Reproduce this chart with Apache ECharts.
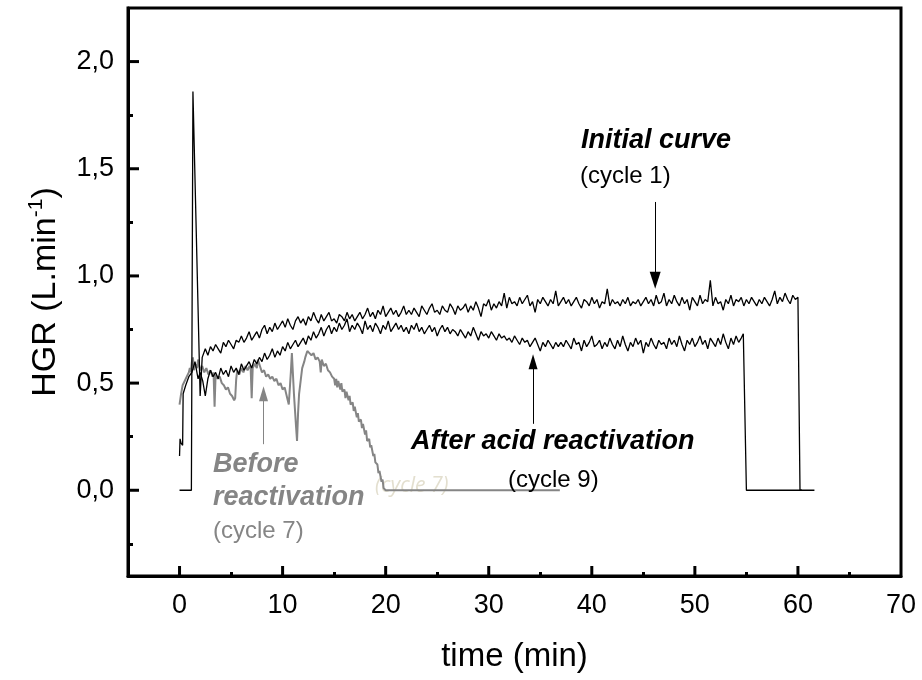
<!DOCTYPE html>
<html>
<head>
<meta charset="utf-8">
<script src="https://cdn.jsdelivr.net/npm/echarts@6/dist/echarts.min.js"></script>
<style>
html, body { margin: 0; padding: 0; background: #fff; }
#chart { width: 922px; height: 680px; }
</style>
</head>
<body>
<div id="chart"></div>
<script>
const step = 0.25

// cycle 1 - initial curve
const cycle1Head = [[0, 0], [1.15, 0], [1.3, 1.86], [2.0, 0.44], [2.2, 0.62]]
const cycle1Start = 2.5
const cycle1Values = [
    0.66, 0.63, 0.67, 0.65, 0.68, 0.66, 0.64, 0.69, 0.67, 0.70, 0.68, 0.66, 0.70, 0.69, 0.72, 0.69, 0.71, 0.74, 0.70, 0.72,
    0.74, 0.71, 0.75, 0.77, 0.73, 0.76, 0.74, 0.78, 0.75, 0.77, 0.79, 0.76, 0.80, 0.77, 0.75, 0.79, 0.81, 0.78, 0.80, 0.77,
    0.81, 0.79, 0.83, 0.80, 0.78, 0.82, 0.79, 0.81, 0.83, 0.79, 0.80, 0.78, 0.82, 0.81, 0.79, 0.83, 0.80, 0.82, 0.79, 0.81,
    0.83, 0.80, 0.82, 0.85, 0.81, 0.83, 0.80, 0.84, 0.82, 0.86, 0.81, 0.83, 0.85, 0.82, 0.84, 0.81, 0.83, 0.86, 0.82, 0.84,
    0.82, 0.85, 0.83, 0.81, 0.86, 0.84, 0.82, 0.85, 0.87, 0.83, 0.84, 0.82, 0.86, 0.84, 0.83, 0.87, 0.85, 0.82, 0.86, 0.84,
    0.85, 0.87, 0.83, 0.86, 0.84, 0.88, 0.85, 0.81, 0.87, 0.86, 0.89, 0.84, 0.87, 0.85, 0.88, 0.86, 0.92, 0.85, 0.90, 0.87,
    0.88, 0.86, 0.90, 0.87, 0.89, 0.91, 0.86, 0.88, 0.83, 0.89, 0.87, 0.90, 0.88, 0.86, 0.89, 0.87, 0.93, 0.86, 0.88, 0.90,
    0.87, 0.89, 0.86, 0.88, 0.90, 0.87, 0.85, 0.89, 0.88, 0.86, 0.90, 0.87, 0.89, 0.85, 0.88, 0.87, 0.94, 0.86, 0.89, 0.87,
    0.88, 0.86, 0.89, 0.87, 0.90, 0.86, 0.88, 0.87, 0.89, 0.86, 0.88, 0.90, 0.87, 0.89, 0.86, 0.91, 0.87, 0.88, 0.92, 0.86,
    0.89, 0.87, 0.91, 0.88, 0.86, 0.90, 0.87, 0.89, 0.84, 0.90, 0.88, 0.86, 0.91, 0.87, 0.89, 0.88, 0.98, 0.86, 0.90, 0.87,
    0.88, 0.84, 0.89, 0.87, 0.91, 0.86, 0.89, 0.88, 0.90, 0.86, 0.89, 0.87, 0.90, 0.88, 0.86, 0.89, 0.87, 0.90, 0.88, 0.86,
    0.89, 0.93, 0.87, 0.90, 0.88, 0.92, 0.89, 0.87, 0.91, 0.89, 0.90
]
const cycle1Tail = [[60.2, 0], [61.6, 0]]

// cycle 9 - after acid reactivation
const cycle9Head = [[0, 0.16], [0.05, 0.24], [0.15, 0.22], [0.3, 0.21], [0.35, 0.45],
    [0.6, 0.49], [0.9, 0.53], [1.2, 0.55], [1.5, 0.60], [1.8, 0.52]]
const cycle9Start = 2.0
const cycle9Values = [
    0.55, 0.51, 0.44, 0.52, 0.56, 0.53, 0.55, 0.52, 0.57, 0.54, 0.56, 0.53, 0.58, 0.55, 0.57, 0.54, 0.59, 0.56, 0.58, 0.60,
    0.57, 0.61, 0.59, 0.62, 0.60, 0.64, 0.61, 0.63, 0.66, 0.62, 0.65, 0.63, 0.67, 0.65, 0.69, 0.66, 0.68, 0.70, 0.67, 0.69,
    0.71, 0.68, 0.72, 0.70, 0.74, 0.71, 0.73, 0.76, 0.72, 0.75, 0.77, 0.73, 0.76, 0.74, 0.78, 0.75, 0.77, 0.80, 0.74, 0.77,
    0.75, 0.78, 0.76, 0.73, 0.79, 0.75, 0.77, 0.74, 0.78, 0.76, 0.73, 0.77, 0.75, 0.79, 0.74, 0.76, 0.78, 0.75, 0.77, 0.74,
    0.76, 0.73, 0.77, 0.75, 0.78, 0.74, 0.76, 0.73, 0.75, 0.77, 0.74, 0.76, 0.72, 0.75, 0.77, 0.74, 0.76, 0.73, 0.75, 0.74,
    0.72, 0.75, 0.73, 0.71, 0.74, 0.72, 0.76, 0.73, 0.70, 0.74, 0.72, 0.73, 0.71, 0.74, 0.72, 0.70, 0.73, 0.71, 0.72, 0.70,
    0.71, 0.69, 0.72, 0.70, 0.68, 0.71, 0.69, 0.70, 0.67, 0.69, 0.71, 0.68, 0.65, 0.69, 0.67, 0.70, 0.68, 0.66, 0.69, 0.67,
    0.69, 0.67, 0.70, 0.68, 0.66, 0.71, 0.68, 0.69, 0.65, 0.70, 0.67, 0.69, 0.72, 0.67, 0.68, 0.70, 0.66, 0.69, 0.67, 0.71,
    0.68, 0.66, 0.70, 0.67, 0.72, 0.68, 0.65, 0.69, 0.67, 0.71, 0.68, 0.70, 0.64, 0.69, 0.67, 0.71, 0.68, 0.66, 0.70, 0.68,
    0.69, 0.66, 0.71, 0.68, 0.70, 0.67, 0.72, 0.68, 0.65, 0.70, 0.68, 0.71, 0.67, 0.69, 0.72, 0.68, 0.70, 0.66, 0.71, 0.69,
    0.67, 0.71, 0.68, 0.73, 0.69, 0.66, 0.71, 0.68, 0.72, 0.69, 0.71
]
const cycle9Tail = [[54.7, 0.73], [55.0, 0], [60.4, 0]]

// cycle 7 - before reactivation
const cycle7Points = [
    [0.0, 0.40], [0.15, 0.45], [0.3, 0.49], [0.5, 0.51], [0.7, 0.53], [0.9, 0.55], [1.0, 0.57], [1.1, 0.55],
    [1.2, 0.60], [1.3, 0.62], [1.4, 0.56], [1.5, 0.59], [1.7, 0.57], [1.8, 0.61], [2.0, 0.56], [2.2, 0.58],
    [2.4, 0.55], [2.6, 0.57], [2.8, 0.54], [3.0, 0.56], [3.2, 0.53], [3.3, 0.55], [3.4, 0.39], [3.5, 0.54],
    [3.7, 0.52], [3.9, 0.53], [4.1, 0.50], [4.3, 0.49], [4.5, 0.47], [4.7, 0.48], [4.9, 0.45], [5.1, 0.44],
    [5.3, 0.42], [5.4, 0.43], [5.5, 0.52], [5.6, 0.56], [5.8, 0.54], [6.0, 0.57], [6.2, 0.55], [6.4, 0.58],
    [6.6, 0.56], [6.8, 0.58], [6.9, 0.57], [7.0, 0.43], [7.1, 0.57], [7.3, 0.59], [7.5, 0.57], [7.6, 0.61],
    [7.8, 0.58], [8.0, 0.55], [8.2, 0.56], [8.4, 0.53], [8.6, 0.54], [8.8, 0.52], [9.0, 0.53], [9.2, 0.51],
    [9.4, 0.52], [9.6, 0.49], [9.8, 0.50], [10.0, 0.47], [10.2, 0.48], [10.4, 0.44], [10.5, 0.42], [10.6, 0.40],
    [10.8, 0.55], [10.9, 0.64], [11.1, 0.45], [11.3, 0.30], [11.4, 0.23], [11.5, 0.36], [11.6, 0.45], [11.8, 0.53],
    [11.9, 0.57], [12.1, 0.60], [12.2, 0.62], [12.4, 0.65], [12.6, 0.64], [12.8, 0.63], [13.0, 0.64], [13.2, 0.61],
    [13.4, 0.62], [13.6, 0.60], [13.7, 0.55], [13.8, 0.61], [14.0, 0.58], [14.2, 0.59], [14.4, 0.56], [14.6, 0.55],
    [14.8, 0.53], [15.0, 0.52], [15.1, 0.49], [15.2, 0.52], [15.3, 0.48], [15.4, 0.51], [15.6, 0.47], [15.7, 0.50],
    [15.8, 0.46], [16.0, 0.47], [16.1, 0.43], [16.2, 0.46], [16.4, 0.42], [16.5, 0.44], [16.6, 0.40], [16.8, 0.41],
    [16.9, 0.37], [17.0, 0.39], [17.2, 0.34], [17.3, 0.36], [17.4, 0.32], [17.6, 0.33], [17.7, 0.29], [17.8, 0.31],
    [18.0, 0.26], [18.1, 0.28], [18.2, 0.23], [18.4, 0.24], [18.5, 0.20], [18.6, 0.21], [18.8, 0.16], [18.9, 0.17],
    [19.0, 0.13], [19.2, 0.12], [19.3, 0.08], [19.4, 0.09], [19.6, 0.04], [19.7, 0.05], [19.8, 0.01], [20.0, 0],
    [36.9, 0]
]

const xLabels = [0, 10, 20, 30, 40, 50, 60]
const xMinor = [5, 15, 25, 35, 45, 55, 65]
const yLabels = [0, 0.5, 1.0, 1.5, 2.0]
const yMinor = [-0.25, 0.25, 0.75, 1.25, 1.75]
const xRange = [-5, 70]
const yRange = [-0.4, 2.25]

const font = 'Liberation Sans, Arial, sans-serif'

function sampled(head, start, values, tail) {
    let out = head.slice()
    values.forEach((v, i) => out.push([start + i * step, v]))
    return out.concat(tail)
}

function arrow(x, y1, y2, color, size) {
    return {
        silent: true,
        symbol: ['none', 'triangle'],
        symbolSize: size,
        label: { show: false },
        lineStyle: { color: color, width: 1, type: 'solid' },
        data: [[{ coord: [x, y1] }, { coord: [x, y2] }]]
    }
}

// extra axis carrying only the short minor ticks
function tickAxis(range, pos, len, values) {
    return {
        type: 'value',
        min: range[0],
        max: range[1],
        position: pos,
        axisLine: { show: false, onZero: false },
        axisTick: { show: true, inside: true, length: len, customValues: values, lineStyle: { color: '#000', width: 3 } },
        axisLabel: { show: false },
        splitLine: { show: false }
    }
}

let chart = echarts.init(document.getElementById('chart'))

chart.setOption({
    animation: false,
    grid: {
        left: 128,
        right: 21,
        top: 8,
        bottom: 104,
        show: true,
        borderColor: '#000',
        borderWidth: 3
    },
    xAxis: [{
        type: 'value',
        min: xRange[0],
        max: xRange[1],
        splitNumber: 8,
        name: 'time (min)',
        nameLocation: 'middle',
        nameGap: 64,
        nameTextStyle: { fontFamily: font, fontSize: 33, color: '#000' },
        axisLine: { show: true, onZero: false, lineStyle: { color: '#000', width: 3 } },
        axisTick: { show: false },
        axisLabel: {
            margin: 16,
            fontFamily: font,
            fontSize: 27,
            color: '#000',
            formatter: v => (v < 0 ? '' : v)
        },
        splitLine: { show: false }
    },
        tickAxis(xRange, 'bottom', 4, xMinor)
    ],
    yAxis: [{
        type: 'value',
        min: yRange[0],
        max: yRange[1],
        splitNumber: 5,
        name: '{n|HGR (L.min}{s|-1}{n|)}',
        nameLocation: 'middle',
        nameGap: 62,
        nameRotate: 90,
        nameTextStyle: {
            rich: {
                n: { fontFamily: font, fontSize: 34, color: '#000', lineHeight: 40 },
                s: { fontFamily: font, fontSize: 21, color: '#000', lineHeight: 20, verticalAlign: 'top' }
            }
        },
        axisLine: { show: true, onZero: false, lineStyle: { color: '#000', width: 3 } },
        axisTick: { show: false },
        axisLabel: {
            margin: 14,
            fontFamily: font,
            fontSize: 27,
            color: '#000',
            formatter: v => (Math.abs(v * 2 - Math.round(v * 2)) < 1e-6 ? v.toFixed(1).replace('.', ',') : '')
        },
        splitLine: { show: false }
    },
        tickAxis(yRange, 'left', 5, yMinor)
    ],
    series: [{
        name: 'cycle 7',
        type: 'line',
        symbol: 'none',
        z: 3,
        lineStyle: { color: '#858585', width: 2 },
        data: cycle7Points,
        markLine: arrow(8.15, 0.215, 0.45, '#858585', [9, 15])
    }, {
        name: 'cycle 9',
        type: 'line',
        symbol: 'none',
        z: 4,
        lineStyle: { color: '#000', width: 1.3 },
        data: sampled(cycle9Head, cycle9Start, cycle9Values, cycle9Tail),
        markLine: arrow(34.3, 0.31, 0.6, '#000', [9, 15])
    }, {
        name: 'cycle 1',
        type: 'line',
        symbol: 'none',
        z: 5,
        lineStyle: { color: '#000', width: 1.3 },
        data: sampled(cycle1Head, cycle1Start, cycle1Values, cycle1Tail),
        markLine: arrow(46.15, 1.345, 0.98, '#000', [11, 17])
    }],
    graphic: [
        { type: 'text', id: 't0', z: 1, style: { text: '(cycle 7)', x: 375, y: 486, font: 'italic 21px "Open Sans", sans-serif', fill: '#e3dfcf', verticalAlign: 'middle' } },
        { type: 'text', id: 't1', z: 10, style: { text: 'Initial curve', x: 581, y: 141, font: 'italic bold 27px ' + font, fill: '#000', verticalAlign: 'middle' } },
        { type: 'text', id: 't2', z: 10, style: { text: '(cycle 1)', x: 580, y: 176, font: '24px ' + font, fill: '#000', verticalAlign: 'middle' } },
        { type: 'text', id: 't3', z: 10, style: { text: 'After acid reactivation', x: 411, y: 442, font: 'italic bold 27px ' + font, fill: '#000', verticalAlign: 'middle' } },
        { type: 'text', id: 't4', z: 10, style: { text: '(cycle 9)', x: 508, y: 480, font: '24px ' + font, fill: '#000', verticalAlign: 'middle' } },
        { type: 'text', id: 't5', z: 10, style: { text: 'Before', x: 213, y: 465, font: 'italic bold 27px ' + font, fill: '#858585', verticalAlign: 'middle' } },
        { type: 'text', id: 't6', z: 10, style: { text: 'reactivation', x: 213, y: 498, font: 'italic bold 27px ' + font, fill: '#858585', verticalAlign: 'middle' } },
        { type: 'text', id: 't7', z: 10, style: { text: '(cycle 7)', x: 213, y: 531, font: '24px ' + font, fill: '#858585', verticalAlign: 'middle' } }
    ]
})

// long major ticks, placed through the axes' own scales
let axisBottom = chart.convertToPixel({ yAxisIndex: 0 }, yRange[0])
let axisLeft = chart.convertToPixel({ xAxisIndex: 0 }, xRange[0])
let majorTicks = []
xLabels.forEach((v, i) => {
    let px = chart.convertToPixel({ xAxisIndex: 0 }, v)
    majorTicks.push({
        type: 'line', id: 'mx' + i, z: 20, silent: true,
        shape: { x1: px, y1: axisBottom, x2: px, y2: axisBottom - 10 },
        style: { stroke: '#000', lineWidth: 3 }
    })
})
yLabels.forEach((v, i) => {
    let py = chart.convertToPixel({ yAxisIndex: 0 }, v)
    majorTicks.push({
        type: 'line', id: 'my' + i, z: 20, silent: true,
        shape: { x1: axisLeft, y1: py, x2: axisLeft + 11, y2: py },
        style: { stroke: '#000', lineWidth: 3 }
    })
})
chart.setOption({ graphic: majorTicks })
</script>
</body>
</html>
